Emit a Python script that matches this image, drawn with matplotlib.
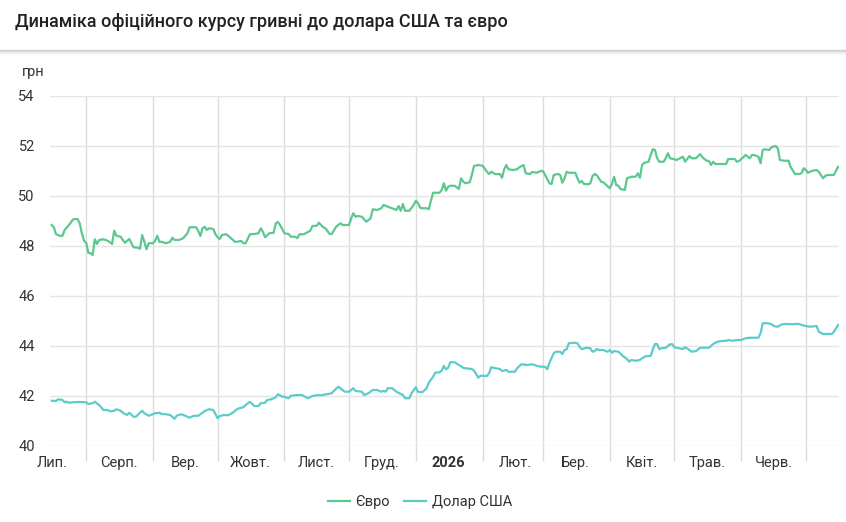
import numpy as np
import pandas as pd
import matplotlib
matplotlib.use('Agg')
import matplotlib.pyplot as plt
from matplotlib.lines import Line2D

# days counted from the first point of the series
start = pd.Timestamp('2025-07-16')

eur_days = [0, 1, 2, 4, 5, 6, 8, 10, 12, 13, 14, 15, 16, 17, 18, 19, 20, 21, 22, 24,
            26, 28, 29, 30, 32, 33, 34, 36, 37, 38, 40, 41, 42, 43, 44, 45, 47, 48, 49, 50,
            51, 53, 55, 56, 57, 59, 61, 63, 64, 67, 68, 69, 70, 71, 72, 73, 75, 76, 77, 78,
            79, 81, 83, 85, 86, 88, 89, 90, 92, 94, 96, 97, 98, 99, 101, 103, 104, 105, 106, 108,
            110, 111, 113, 114, 115, 117, 120, 121, 123, 124, 126, 127, 129, 130, 132, 134, 135, 138, 139, 140,
            141, 142, 144, 146, 148, 149, 151, 153, 154, 156, 158, 160, 161, 162, 163, 164, 166, 168, 169, 170,
            171, 172, 174, 175, 176, 177, 180, 181, 182, 183, 184, 185, 187, 189, 190, 191, 192, 194, 195, 196,
            198, 200, 202, 203, 204, 206, 208, 209, 210, 211, 212, 214, 216, 217, 219, 220, 222, 223, 225, 227,
            228, 229, 231, 232, 233, 235, 236, 237, 238, 239, 240, 243, 244, 245, 246, 247, 249, 250, 251, 252,
            253, 255, 256, 257, 259, 260, 261, 262, 263, 264, 266, 267, 269, 271, 272, 273, 274, 275, 277, 278,
            279, 280, 281, 282, 284, 285, 286, 287, 289, 290, 293, 294, 296, 297, 299, 301, 302, 304, 305, 306,
            307, 308, 310, 313, 314, 317, 318, 319, 321, 322, 324, 325, 326, 328, 329, 330, 331, 333, 334, 336,
            337, 338, 340, 342, 343, 345, 347, 348, 349, 350, 351, 353, 355, 356, 357, 358, 359, 360, 363, 365]
eur_rate = [48.84, 48.75, 48.47, 48.40, 48.41, 48.64, 48.84, 49.07, 49.08, 48.91, 48.51, 48.21, 48.13, 47.73, 47.71, 47.64, 48.27, 48.08, 48.24, 48.27,
            48.21, 48.08, 48.61, 48.41, 48.37, 48.24, 48.13, 48.28, 48.11, 47.95, 47.93, 47.89, 48.44, 48.17, 47.87, 48.11, 48.11, 48.21, 48.41, 48.16,
            48.17, 48.11, 48.17, 48.33, 48.24, 48.24, 48.31, 48.51, 48.75, 48.75, 48.61, 48.40, 48.71, 48.77, 48.64, 48.71, 48.68, 48.47, 48.35, 48.28,
            48.44, 48.47, 48.33, 48.17, 48.17, 48.20, 48.11, 48.11, 48.47, 48.48, 48.51, 48.71, 48.57, 48.35, 48.51, 48.53, 48.91, 48.96, 48.84, 48.51,
            48.48, 48.37, 48.37, 48.31, 48.47, 48.47, 48.61, 48.80, 48.81, 48.93, 48.75, 48.71, 48.48, 48.48, 48.77, 48.91, 48.84, 48.84, 49.11, 49.31,
            49.17, 49.20, 49.17, 48.97, 49.11, 49.47, 49.44, 49.51, 49.64, 49.57, 49.51, 49.44, 49.60, 49.41, 49.68, 49.41, 49.41, 49.64, 49.81, 49.71,
            49.53, 49.51, 49.51, 49.47, 49.81, 50.13, 50.13, 50.24, 50.51, 50.21, 50.37, 50.41, 50.41, 50.28, 50.71, 50.57, 50.51, 50.55, 50.84, 51.20,
            51.24, 51.21, 50.97, 50.88, 50.97, 50.87, 50.88, 50.73, 51.07, 51.24, 51.07, 51.04, 51.07, 51.15, 51.24, 50.91, 50.88, 50.96, 50.93, 51.00,
            51.00, 50.84, 50.51, 50.48, 50.84, 50.88, 50.84, 50.53, 50.71, 50.97, 50.93, 50.93, 50.71, 50.53, 50.60, 50.48, 50.47, 50.51, 50.80, 50.88,
            50.83, 50.57, 50.55, 50.47, 50.31, 50.48, 50.77, 50.44, 50.41, 50.28, 50.24, 50.71, 50.77, 50.77, 50.91, 50.73, 51.24, 51.33, 51.37, 51.64,
            51.87, 51.84, 51.51, 51.37, 51.37, 51.51, 51.71, 51.51, 51.47, 51.44, 51.57, 51.37, 51.60, 51.51, 51.51, 51.68, 51.55, 51.41, 51.40, 51.24,
            51.37, 51.28, 51.28, 51.28, 51.48, 51.48, 51.37, 51.40, 51.55, 51.64, 51.51, 51.64, 51.64, 51.57, 51.31, 51.84, 51.87, 51.84, 51.95, 52.00,
            51.91, 51.44, 51.41, 51.41, 51.15, 50.88, 50.88, 50.91, 51.11, 51.04, 50.93, 51.01, 51.04, 50.97, 50.84, 50.71, 50.80, 50.84, 50.84, 51.17]

usd_days = [0, 2, 3, 5, 6, 7, 8, 10, 13, 16, 17, 19, 20, 22, 24, 26, 27, 29, 30, 32,
            33, 35, 36, 38, 39, 42, 43, 45, 46, 48, 50, 51, 53, 55, 57, 58, 60, 62, 64, 66,
            68, 70, 71, 73, 75, 76, 77, 78, 80, 82, 84, 86, 87, 89, 90, 92, 94, 96, 97, 99,
            100, 102, 104, 105, 107, 108, 110, 111, 114, 116, 119, 121, 123, 125, 128, 130, 131, 133, 134, 136,
            138, 140, 141, 144, 145, 147, 149, 151, 153, 154, 155, 156, 158, 160, 162, 163, 164, 166, 167, 169,
            170, 172, 174, 175, 177, 178, 180, 181, 182, 183, 184, 185, 187, 189, 191, 192, 195, 196, 197, 198,
            199, 202, 203, 204, 206, 208, 209, 211, 212, 215, 216, 218, 221, 223, 225, 227, 229, 230, 231, 233,
            234, 236, 237, 238, 239, 240, 243, 244, 245, 246, 248, 250, 251, 252, 253, 254, 256, 258, 259, 260,
            261, 263, 265, 267, 268, 269, 271, 273, 274, 276, 278, 279, 280, 281, 282, 283, 285, 287, 288, 289,
            291, 293, 294, 296, 297, 299, 301, 303, 305, 307, 309, 311, 313, 314, 316, 318, 320, 322, 324, 328,
            329, 330, 332, 334, 335, 337, 339, 341, 344, 345, 347, 348, 350, 352, 355, 356, 358, 360, 362, 363,
            365]
usd_rate = [41.81, 41.80, 41.87, 41.84, 41.75, 41.77, 41.73, 41.75, 41.76, 41.75, 41.68, 41.71, 41.77, 41.64, 41.44, 41.44, 41.39, 41.41, 41.47, 41.41,
            41.33, 41.24, 41.33, 41.17, 41.17, 41.41, 41.31, 41.21, 41.24, 41.31, 41.33, 41.28, 41.27, 41.24, 41.09, 41.21, 41.27, 41.21, 41.13, 41.21,
            41.21, 41.33, 41.40, 41.47, 41.44, 41.28, 41.11, 41.20, 41.24, 41.23, 41.33, 41.47, 41.51, 41.55, 41.64, 41.77, 41.60, 41.60, 41.71, 41.73,
            41.84, 41.87, 41.95, 42.07, 41.97, 41.97, 41.91, 42.01, 42.04, 42.04, 41.91, 42.00, 42.03, 42.03, 42.08, 42.11, 42.21, 42.37, 42.31, 42.17,
            42.17, 42.31, 42.20, 42.17, 42.04, 42.11, 42.24, 42.24, 42.17, 42.21, 42.17, 42.31, 42.31, 42.17, 42.08, 42.04, 41.91, 41.91, 42.11, 42.35,
            42.17, 42.15, 42.31, 42.53, 42.77, 42.93, 42.95, 43.01, 43.20, 43.07, 43.13, 43.35, 43.35, 43.24, 43.13, 43.11, 43.08, 43.01, 42.88, 42.73,
            42.81, 42.80, 42.91, 43.15, 43.11, 43.08, 43.00, 43.04, 42.97, 42.97, 43.11, 43.27, 43.24, 43.27, 43.21, 43.17, 43.17, 43.07, 43.33, 43.71,
            43.77, 43.77, 43.68, 43.84, 43.87, 44.11, 44.13, 44.11, 43.97, 43.87, 43.93, 43.91, 43.77, 43.80, 43.88, 43.84, 43.84, 43.77, 43.84, 43.73,
            43.80, 43.77, 43.61, 43.48, 43.37, 43.44, 43.41, 43.44, 43.51, 43.60, 43.60, 43.87, 44.08, 44.08, 43.87, 43.91, 43.93, 44.07, 44.07, 43.95,
            43.91, 43.88, 43.95, 43.84, 43.77, 43.80, 43.93, 43.93, 43.93, 44.08, 44.17, 44.20, 44.21, 44.24, 44.21, 44.24, 44.24, 44.31, 44.33, 44.33,
            44.51, 44.91, 44.91, 44.88, 44.80, 44.77, 44.87, 44.88, 44.87, 44.88, 44.88, 44.84, 44.80, 44.77, 44.80, 44.57, 44.48, 44.48, 44.48, 44.57,
            44.84]

month_labels = ['Лип.', 'Серп.', 'Вер.', 'Жовт.', 'Лист.', 'Груд.', '2026',
                'Лют.', 'Бер.', 'Квіт.', 'Трав.', 'Черв.']
y_ticks = [40, 42, 44, 46, 48, 50, 52, 54]

title = 'Динаміка офіційного курсу гривні до долара США та євро'
eur_color = '#5cc78f'
usd_color = '#5ccccb'
grid_color = '#e5e5e5'
vgrid_color = '#dcdcdc'
text_color = '#333333'

plt.rcParams['font.family'] = ['Roboto', 'DejaVu Sans']

W, H = 846, 522
fig = plt.figure(figsize=(W / 100, H / 100), dpi=100)
ax = fig.add_axes([50 / W, 1 - 446 / H, 789 / W, 350 / H])

eur_dates = start + pd.to_timedelta(eur_days, unit='D')
usd_dates = start + pd.to_timedelta(usd_days, unit='D')
ax.plot(eur_dates, eur_rate, color=eur_color, lw=1.6, label='Євро', zorder=3)
ax.plot(usd_dates, usd_rate, color=usd_color, lw=1.6, label='Долар США', zorder=3)

ax.set_xlim(start - pd.Timedelta(hours=19), start + pd.Timedelta(hours=365.4 * 24))
ax.set_ylim(40, 54)
ax.set_yticks(y_ticks)
ax.tick_params(axis='y', length=0, pad=11, labelsize=10.5, labelcolor=text_color)

month_starts = pd.date_range('2025-08-01', '2026-07-01', freq='MS')
mid_months = pd.date_range('2025-07-01', periods=12, freq='MS') + pd.Timedelta(days=15)
ax.set_xticks(month_starts)
ax.set_xticklabels([])
ax.set_xticks(mid_months, minor=True)
ax.set_xticklabels(month_labels, minor=True)
ax.tick_params(axis='x', which='major', length=11, width=1, color=vgrid_color)
ax.tick_params(axis='x', which='minor', length=0, pad=7, labelsize=10.5, labelcolor=text_color)
ax.get_xticklabels(minor=True)[6].set_fontweight('bold')

ax.grid(True, axis='y', which='major', color=grid_color, lw=1, zorder=0)
ax.grid(True, axis='x', which='major', color=vgrid_color, lw=1, zorder=0)
for s in ax.spines.values():
    s.set_visible(False)

fig.text(22 / W, 1 - 72 / H, 'грн', fontsize=10.5, color=text_color, va='center', ha='left')
fig.text(15 / W, 1 - 22 / H, title, fontsize=13, fontweight='medium', color='#222222',
         va='center', ha='left')

# header shadow
for i, a in enumerate([0.16, 0.10, 0.06, 0.035, 0.015]):
    fig.add_artist(Line2D([0, 1], [1 - (50 + i) / H] * 2, color='black', alpha=a, lw=1))

fig.legend(loc='center', bbox_to_anchor=(420 / W, 1 - 502 / H), ncol=2, frameon=False,
           fontsize=10.5, handlelength=1.5, handletextpad=0.4, columnspacing=1.0,
           labelcolor=text_color)

fig.savefig('out.png', dpi=100)
